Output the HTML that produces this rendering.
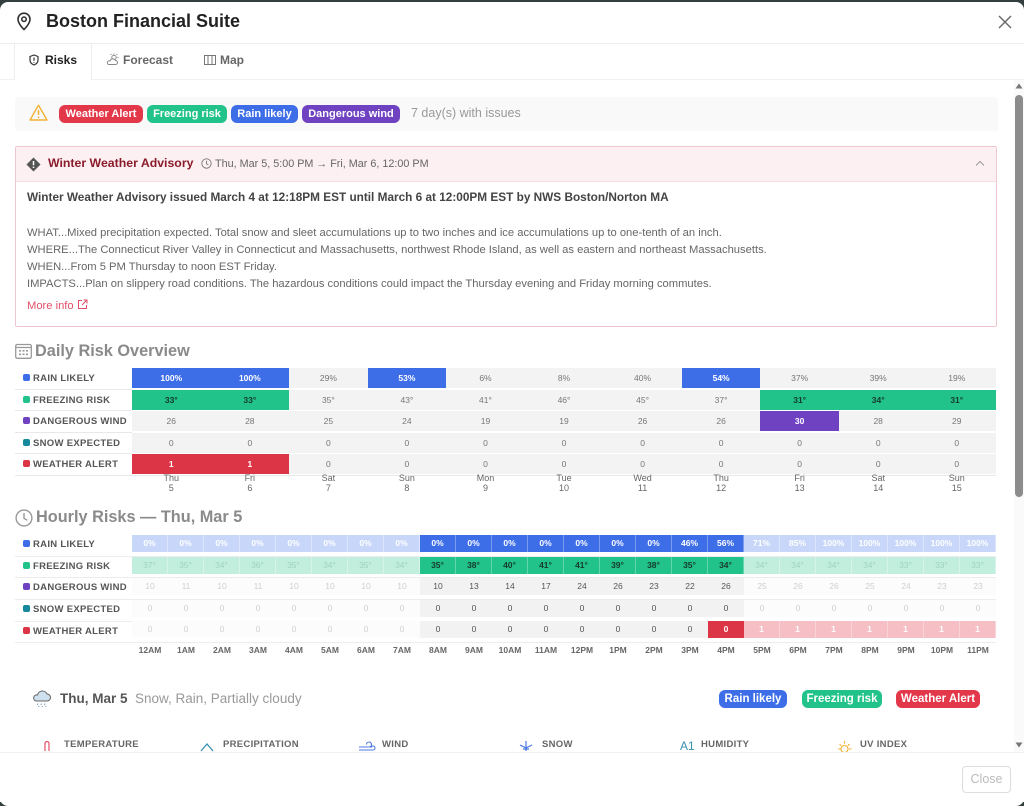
<!DOCTYPE html>
<html><head><meta charset="utf-8">
<style>
*{box-sizing:border-box;margin:0;padding:0}
body{width:1024px;height:806px;background:#34403f;font-family:"Liberation Sans",Arial,sans-serif;overflow:hidden;position:relative}
.modal{position:absolute;left:0;top:2px;width:1024px;height:804px;background:#fff;border-radius:8px}
.a{position:absolute}
.badge{position:absolute;height:18px;line-height:18px;border-radius:6px;color:#fff;font-weight:bold;font-size:11px;text-align:center;white-space:nowrap}
.lbl{position:absolute;left:23px;font-size:9.5px;font-weight:bold;color:#555;letter-spacing:.3px;white-space:nowrap}
.lbl i{display:inline-block;width:7px;height:7px;border-radius:2px;margin-right:3px;vertical-align:0px}
.line{position:absolute;height:1px;background:#e8e8e8}
.drow{position:absolute;left:132px;width:864px;height:20px;display:flex;background:#f3f3f3}
.drow div{flex:1;text-align:center;font-size:8.5px;line-height:20px;color:#777}
.drow .b{background:#3d6ee8;color:#fff;font-weight:bold}
.drow .g{background:#22c38b;color:#173a2c;font-weight:bold}
.drow .p{background:#6f42c1;color:#fff;font-weight:bold}
.drow .r{background:#dc3545;color:#fff;font-weight:bold}
.days{position:absolute;left:132px;top:474px;width:864px;display:flex}
.days div{flex:1;text-align:center;font-size:9px;line-height:9.5px;color:#666}
.hrow{position:absolute;left:132px;width:864px;height:17px;display:flex}
.hrow div{width:36px;text-align:center;font-size:8.5px;line-height:17px}
.hb{background:#3d6ee8;color:#fff;font-weight:bold;border-right:1px solid #7a9cf0}
.hbf{background:#c8d7f9;color:#fff;font-weight:bold;border-right:1px solid #dde6fb}
.hg{background:#22c38b;color:#173a2c;font-weight:bold;border-right:1px solid #62d6ad}
.hgf{background:#c2eedd;color:#9fd3bf;border-right:1px solid #d8f4ea}
.hw{background:#f2f2f2;color:#555}
.hwf{background:#fcfcfc;color:#cfcfcf}
.hr{background:#dc3545;color:#fff;font-weight:bold}
.hrf{background:#f5bfc5;color:#fff;font-weight:bold;border-right:1px solid #f8d3d7}
.hours{position:absolute;left:132px;top:645px;width:864px;display:flex}
.hours div{width:36px;text-align:center;font-size:8.5px;font-weight:bold;color:#666}
.ml{position:absolute;top:739px;font-size:9.5px;font-weight:bold;color:#666;letter-spacing:.3px}
.body-t{position:absolute;left:27px;font-size:11.2px;color:#666;white-space:nowrap;line-height:14px}
</style></head><body>
<div class="modal"></div>

<!-- header -->
<svg class="a" style="left:16px;top:12px" width="16" height="19" viewBox="0 0 16 19"><path d="M8 17.5s6-5.6 6-10.3A6 6 0 0 0 2 7.2c0 4.7 6 10.3 6 10.3z" fill="none" stroke="#333" stroke-width="1.6"/><circle cx="8" cy="7.2" r="2.2" fill="none" stroke="#333" stroke-width="1.6"/></svg>
<div class="a" style="left:46px;top:11px;font-size:18px;line-height:20px;font-weight:bold;color:#222">Boston Financial Suite</div>
<svg class="a" style="left:998px;top:15px" width="14" height="14" viewBox="0 0 14 14"><path d="M1 1L13 13M13 1L1 13" stroke="#666" stroke-width="1.4"/></svg>
<div class="line" style="left:0;top:43px;width:1024px;background:#eee"></div>

<!-- tabs -->
<div class="a" style="left:14px;top:44px;width:78px;height:36px;background:#fff;border-left:1px solid #eee;border-right:1px solid #eee"></div>
<div class="line" style="left:0;top:79px;width:14px;background:#f0f0f0"></div>
<div class="line" style="left:92px;top:79px;width:932px;background:#f0f0f0"></div>
<svg class="a" style="left:29px;top:54px" width="10" height="12" viewBox="0 0 10 12"><path d="M5 1L9 2.5V6c0 2.5-2 4.2-4 5-2-.8-4-2.5-4-5V2.5z" fill="none" stroke="#333" stroke-width="1.2"/><path d="M5 3.5v3.2M5 8v.8" stroke="#333" stroke-width="1.2"/></svg>
<div class="a" style="left:45px;top:53px;font-size:12px;line-height:15px;font-weight:bold;color:#222">Risks</div>
<svg class="a" style="left:106px;top:53px" width="13" height="13" viewBox="0 0 13 13"><circle cx="8" cy="4.5" r="2.2" fill="none" stroke="#888" stroke-width="1"/><path d="M8 0.5v1M11.5 4.5h1M10.6 1.9l.7-.7M5.4 1.9l-.7-.7" stroke="#888" stroke-width="1"/><path d="M2.5 11.5h7a2 2 0 0 0 0-4 3 3 0 0 0-5.5.5 1.8 1.8 0 0 0-1.5 3.5z" fill="#fff" stroke="#888" stroke-width="1"/></svg>
<div class="a" style="left:123px;top:53px;font-size:12px;line-height:15px;font-weight:bold;color:#666">Forecast</div>
<svg class="a" style="left:204px;top:54px" width="12" height="12" viewBox="0 0 12 12"><path d="M.5 1.5h11v9H.5zM4 1.5v9M8 1.5v9" fill="none" stroke="#777" stroke-width="1"/></svg>
<div class="a" style="left:220px;top:53px;font-size:12px;line-height:15px;font-weight:bold;color:#666">Map</div>

<!-- alert bar -->
<div class="a" style="left:15px;top:97px;width:983px;height:34px;background:#f9f9f9;border-radius:3px"></div>
<svg class="a" style="left:29px;top:104px" width="19" height="17" viewBox="0 0 19 17"><path d="M9.5 1.2L18 16H1z" fill="none" stroke="#f2b134" stroke-width="1.4" stroke-linejoin="round"/><path d="M9.5 6v5M9.5 12.5v1.5" stroke="#f2b134" stroke-width="1.5"/></svg>
<div class="badge" style="left:59px;top:105px;width:84px;background:#e2384a">Weather Alert</div>
<div class="badge" style="left:147px;top:105px;width:80px;background:#22c38b">Freezing risk</div>
<div class="badge" style="left:231px;top:105px;width:67px;background:#3d6ee8">Rain likely</div>
<div class="badge" style="left:302px;top:105px;width:98px;background:#6f42c1">Dangerous wind</div>
<div class="a" style="left:411px;top:106px;font-size:12.5px;line-height:15px;color:#999">7 day(s) with issues</div>

<!-- advisory -->
<div class="a" style="left:15px;top:146px;width:982px;height:181px;border:1px solid #f0c6ce;border-radius:2px;background:#fff"></div>
<div class="a" style="left:16px;top:147px;width:980px;height:35px;background:#fdf0f2;border-bottom:1px solid #f5dde2"></div>
<svg class="a" style="left:26px;top:157px" width="15" height="15" viewBox="0 0 15 15"><path d="M7.5 .5L14.5 7.5 7.5 14.5 .5 7.5z" fill="#555"/><path d="M7.5 4v4.2M7.5 9.6v1.4" stroke="#fff" stroke-width="1.5"/></svg>
<div class="a" style="left:48px;top:156px;font-size:12.3px;line-height:15px;font-weight:bold;color:#8a1c2b">Winter Weather Advisory</div>
<svg class="a" style="left:201px;top:158px" width="11" height="11" viewBox="0 0 11 11"><circle cx="5.5" cy="5.5" r="4.7" fill="none" stroke="#777" stroke-width=".9"/><path d="M5.5 2.8v2.9l1.9 1.2" fill="none" stroke="#777" stroke-width=".9"/></svg>
<div class="a" style="left:215px;top:157px;font-size:10.8px;line-height:14px;color:#666;white-space:nowrap">Thu, Mar 5, 5:00 PM → Fri, Mar 6, 12:00 PM</div>
<svg class="a" style="left:975px;top:160px" width="10" height="7" viewBox="0 0 10 7"><path d="M1 5.5L5 1.5 9 5.5" fill="none" stroke="#999" stroke-width="1"/></svg>
<div class="body-t" style="top:190px;font-weight:bold;color:#444;font-size:11.8px">Winter Weather Advisory issued March 4 at 12:18PM EST until March 6 at 12:00PM EST by NWS Boston/Norton MA</div>
<div class="body-t" style="top:226px">WHAT...Mixed precipitation expected. Total snow and sleet accumulations up to two inches and ice accumulations up to one-tenth of an inch.</div>
<div class="body-t" style="top:243px">WHERE...The Connecticut River Valley in Connecticut and Massachusetts, northwest Rhode Island, as well as eastern and northeast Massachusetts.</div>
<div class="body-t" style="top:260px">WHEN...From 5 PM Thursday to noon EST Friday.</div>
<div class="body-t" style="top:277px">IMPACTS...Plan on slippery road conditions. The hazardous conditions could impact the Thursday evening and Friday morning commutes.</div>
<div class="body-t" style="top:299px;color:#e0506a">More info</div>
<svg class="a" style="left:77px;top:299px" width="11" height="11" viewBox="0 0 11 11"><path d="M5 1.5H1.5v8h8V6M6.5 1h3.5v3.5M10 1L5 6" fill="none" stroke="#e0506a" stroke-width="1"/></svg>

<!-- Daily Risk Overview -->
<svg class="a" style="left:15px;top:343px" width="17" height="16" viewBox="0 0 17 16"><rect x=".7" y="1.5" width="15.6" height="13.8" rx="1.5" fill="none" stroke="#999" stroke-width="1.3"/><path d="M.7 4.5h15.6" stroke="#999" stroke-width="1.3"/><g fill="#999"><rect x="4" y="7" width="2" height="1.6"/><rect x="7.5" y="7" width="2" height="1.6"/><rect x="11" y="7" width="2" height="1.6"/><rect x="4" y="10.5" width="2" height="1.6"/><rect x="7.5" y="10.5" width="2" height="1.6"/><rect x="11" y="10.5" width="2" height="1.6"/></g></svg>
<div class="a" style="left:35px;top:342px;font-size:16.3px;line-height:19px;font-weight:bold;color:#8a8a8a">Daily Risk Overview</div>

<div class="lbl" style="top:373px"><i style="background:#3d6ee8"></i>RAIN LIKELY</div>
<div class="lbl" style="top:395px"><i style="background:#22c38b"></i>FREEZING RISK</div>
<div class="lbl" style="top:416px"><i style="background:#6f42c1"></i>DANGEROUS WIND</div>
<div class="lbl" style="top:438px"><i style="background:#17899e"></i>SNOW EXPECTED</div>
<div class="lbl" style="top:459px"><i style="background:#dc3545"></i>WEATHER ALERT</div>
<div class="line" style="left:15px;top:389px;width:117px"></div>
<div class="line" style="left:15px;top:410px;width:117px"></div>
<div class="line" style="left:15px;top:432px;width:117px"></div>
<div class="line" style="left:15px;top:453px;width:117px"></div>
<div class="line" style="left:15px;top:475px;width:981px"></div>

<div class="drow" style="top:368px"><div class="b">100%</div><div class="b">100%</div><div>29%</div><div class="b">53%</div><div>6%</div><div>8%</div><div>40%</div><div class="b">54%</div><div>37%</div><div>39%</div><div>19%</div></div>
<div class="drow" style="top:390px"><div class="g">33°</div><div class="g">33°</div><div>35°</div><div>43°</div><div>41°</div><div>46°</div><div>45°</div><div>37°</div><div class="g">31°</div><div class="g">34°</div><div class="g">31°</div></div>
<div class="drow" style="top:411px"><div>26</div><div>28</div><div>25</div><div>24</div><div>19</div><div>19</div><div>26</div><div>26</div><div class="p">30</div><div>28</div><div>29</div></div>
<div class="drow" style="top:433px"><div>0</div><div>0</div><div>0</div><div>0</div><div>0</div><div>0</div><div>0</div><div>0</div><div>0</div><div>0</div><div>0</div></div>
<div class="drow" style="top:454px"><div class="r">1</div><div class="r">1</div><div>0</div><div>0</div><div>0</div><div>0</div><div>0</div><div>0</div><div>0</div><div>0</div><div>0</div></div>
<div class="days"><div>Thu<br>5</div><div>Fri<br>6</div><div>Sat<br>7</div><div>Sun<br>8</div><div>Mon<br>9</div><div>Tue<br>10</div><div>Wed<br>11</div><div>Thu<br>12</div><div>Fri<br>13</div><div>Sat<br>14</div><div>Sun<br>15</div></div>

<!-- Hourly -->
<svg class="a" style="left:15px;top:509px" width="18" height="18" viewBox="0 0 18 18"><circle cx="9" cy="9" r="7.9" fill="none" stroke="#999" stroke-width="1.4"/><path d="M9 4v5.3l3.3 2" fill="none" stroke="#999" stroke-width="1.4"/></svg>
<div class="a" style="left:36px;top:508px;font-size:16.3px;line-height:19px;font-weight:bold;color:#8a8a8a">Hourly Risks — Thu, Mar 5</div>

<div class="lbl" style="top:539px"><i style="background:#3d6ee8"></i>RAIN LIKELY</div>
<div class="lbl" style="top:561px"><i style="background:#22c38b"></i>FREEZING RISK</div>
<div class="lbl" style="top:582px"><i style="background:#6f42c1"></i>DANGEROUS WIND</div>
<div class="lbl" style="top:604px"><i style="background:#17899e"></i>SNOW EXPECTED</div>
<div class="lbl" style="top:626px"><i style="background:#dc3545"></i>WEATHER ALERT</div>
<div class="line" style="left:15px;top:556px;width:981px;background:#ececec"></div>
<div class="line" style="left:15px;top:577px;width:981px;background:#ececec"></div>
<div class="line" style="left:15px;top:599px;width:981px;background:#ececec"></div>
<div class="line" style="left:15px;top:621px;width:981px;background:#ececec"></div>
<div class="line" style="left:15px;top:642px;width:981px;background:#ececec"></div>

<div class="hrow" style="top:535px"><div class="hbf">0%</div><div class="hbf">0%</div><div class="hbf">0%</div><div class="hbf">0%</div><div class="hbf">0%</div><div class="hbf">0%</div><div class="hbf">0%</div><div class="hbf">0%</div><div class="hb">0%</div><div class="hb">0%</div><div class="hb">0%</div><div class="hb">0%</div><div class="hb">0%</div><div class="hb">0%</div><div class="hb">0%</div><div class="hb">46%</div><div class="hb">56%</div><div class="hbf">71%</div><div class="hbf">85%</div><div class="hbf">100%</div><div class="hbf">100%</div><div class="hbf">100%</div><div class="hbf">100%</div><div class="hbf">100%</div></div>
<div class="hrow" style="top:557px"><div class="hgf">37°</div><div class="hgf">35°</div><div class="hgf">34°</div><div class="hgf">36°</div><div class="hgf">35°</div><div class="hgf">34°</div><div class="hgf">35°</div><div class="hgf">34°</div><div class="hg">35°</div><div class="hg">38°</div><div class="hg">40°</div><div class="hg">41°</div><div class="hg">41°</div><div class="hg">39°</div><div class="hg">38°</div><div class="hg">35°</div><div class="hg">34°</div><div class="hgf">34°</div><div class="hgf">34°</div><div class="hgf">34°</div><div class="hgf">34°</div><div class="hgf">33°</div><div class="hgf">33°</div><div class="hgf">33°</div></div>
<div class="hrow" style="top:578px"><div class="hwf">10</div><div class="hwf">11</div><div class="hwf">10</div><div class="hwf">11</div><div class="hwf">10</div><div class="hwf">10</div><div class="hwf">10</div><div class="hwf">10</div><div class="hw">10</div><div class="hw">13</div><div class="hw">14</div><div class="hw">17</div><div class="hw">24</div><div class="hw">26</div><div class="hw">23</div><div class="hw">22</div><div class="hw">26</div><div class="hwf">25</div><div class="hwf">26</div><div class="hwf">26</div><div class="hwf">25</div><div class="hwf">24</div><div class="hwf">23</div><div class="hwf">23</div></div>
<div class="hrow" style="top:600px"><div class="hwf">0</div><div class="hwf">0</div><div class="hwf">0</div><div class="hwf">0</div><div class="hwf">0</div><div class="hwf">0</div><div class="hwf">0</div><div class="hwf">0</div><div class="hw">0</div><div class="hw">0</div><div class="hw">0</div><div class="hw">0</div><div class="hw">0</div><div class="hw">0</div><div class="hw">0</div><div class="hw">0</div><div class="hw">0</div><div class="hwf">0</div><div class="hwf">0</div><div class="hwf">0</div><div class="hwf">0</div><div class="hwf">0</div><div class="hwf">0</div><div class="hwf">0</div></div>
<div class="hrow" style="top:621px"><div class="hwf">0</div><div class="hwf">0</div><div class="hwf">0</div><div class="hwf">0</div><div class="hwf">0</div><div class="hwf">0</div><div class="hwf">0</div><div class="hwf">0</div><div class="hw">0</div><div class="hw">0</div><div class="hw">0</div><div class="hw">0</div><div class="hw">0</div><div class="hw">0</div><div class="hw">0</div><div class="hw">0</div><div class="hr">0</div><div class="hrf">1</div><div class="hrf">1</div><div class="hrf">1</div><div class="hrf">1</div><div class="hrf">1</div><div class="hrf">1</div><div class="hrf">1</div></div>
<div class="hours"><div>12AM</div><div>1AM</div><div>2AM</div><div>3AM</div><div>4AM</div><div>5AM</div><div>6AM</div><div>7AM</div><div>8AM</div><div>9AM</div><div>10AM</div><div>11AM</div><div>12PM</div><div>1PM</div><div>2PM</div><div>3PM</div><div>4PM</div><div>5PM</div><div>6PM</div><div>7PM</div><div>8PM</div><div>9PM</div><div>10PM</div><div>11PM</div></div>

<!-- day detail -->
<svg class="a" style="left:31px;top:689px" width="21" height="19" viewBox="0 0 21 19"><path d="M5 12h11a3.5 3.5 0 0 0 0-7 5 5 0 0 0-9.5 1A3 3 0 0 0 5 12z" fill="#cfe0ee" stroke="#666" stroke-width="1"/><path d="M7 14.5l-.6 1.5M10.5 14.5l-.6 1.5M14 14.5l-.6 1.5M8 17l-.4 1M11.5 17l-.4 1M15 17l-.4 1" stroke="#7a9ab0" stroke-width="1"/></svg>
<div class="a" style="left:60px;top:690px;font-size:13.5px;line-height:17px;font-weight:bold;color:#555">Thu, Mar 5</div>
<div class="a" style="left:135px;top:690px;font-size:13.5px;line-height:17px;color:#999;white-space:nowrap">Snow, Rain, Partially cloudy</div>
<div class="badge" style="left:719px;top:690px;width:68px;background:#3d6ee8;font-size:11.5px">Rain likely</div>
<div class="badge" style="left:802px;top:690px;width:80px;background:#22c38b;font-size:11.5px">Freezing risk</div>
<div class="badge" style="left:896px;top:690px;width:84px;background:#e2384a;font-size:11.5px">Weather Alert</div>

<svg class="a" style="left:43px;top:741px" width="8" height="12" viewBox="0 0 8 12"><path d="M2 10V2.5a2 2 0 0 1 4 0V10" fill="none" stroke="#e0506a" stroke-width="1.2"/></svg>
<div class="ml" style="left:64px">TEMPERATURE</div>
<svg class="a" style="left:200px;top:742px" width="14" height="10" viewBox="0 0 14 10"><path d="M1 9L7 2l6 7" fill="none" stroke="#3a8fb0" stroke-width="1.3"/></svg>
<div class="ml" style="left:223px">PRECIPITATION</div>
<svg class="a" style="left:358px;top:741px" width="18" height="11" viewBox="0 0 18 11"><path d="M1 6h10a2.5 2.5 0 1 0-2.5-2.5M1 9h14a2 2 0 1 0-2-2" fill="none" stroke="#4a78e0" stroke-width="1.1"/></svg>
<div class="ml" style="left:382px">WIND</div>
<svg class="a" style="left:518px;top:740px" width="16" height="12" viewBox="0 0 16 12"><path d="M8 1v10M2 5l6 3 6-3M5 9h6" fill="none" stroke="#4a78e0" stroke-width="1.2"/></svg>
<div class="ml" style="left:542px">SNOW</div>
<div class="a" style="left:680px;top:739px;font-size:12px;line-height:14px;color:#3a8fb0">A1</div>
<div class="ml" style="left:701px">HUMIDITY</div>
<svg class="a" style="left:836px;top:740px" width="17" height="12" viewBox="0 0 17 12"><circle cx="8.5" cy="9" r="3.5" fill="none" stroke="#f2b134" stroke-width="1.1"/><path d="M8.5 1v2.5M2 9h2.5M13 9h2.5M3.5 4l1.7 1.7M13.5 4l-1.7 1.7" stroke="#f2b134" stroke-width="1.1"/></svg>
<div class="ml" style="left:860px">UV INDEX</div>

<!-- footer -->
<div class="a" style="left:0;top:752px;width:1024px;height:50px;background:#fff;border-top:1px solid #f0f0f0"></div>
<div class="a" style="left:962px;top:766px;width:49px;height:27px;border:1px solid #ddd;border-radius:4px;font-size:12.5px;line-height:25px;text-align:center;color:#bbb">Close</div>

<!-- scrollbar -->
<div class="a" style="left:1014px;top:80px;width:10px;height:672px;background:#fafafa"></div>
<svg class="a" style="left:1015px;top:83px" width="8" height="6" viewBox="0 0 8 6"><path d="M4 .5L7.5 5.5H.5z" fill="#777"/></svg>
<div class="a" style="left:1015px;top:95px;width:8px;height:402px;background:#8c8c8c;border-radius:4px"></div>
<svg class="a" style="left:1015px;top:742px" width="8" height="6" viewBox="0 0 8 6"><path d="M4 5.5L7.5 .5H.5z" fill="#777"/></svg>
</body></html>
